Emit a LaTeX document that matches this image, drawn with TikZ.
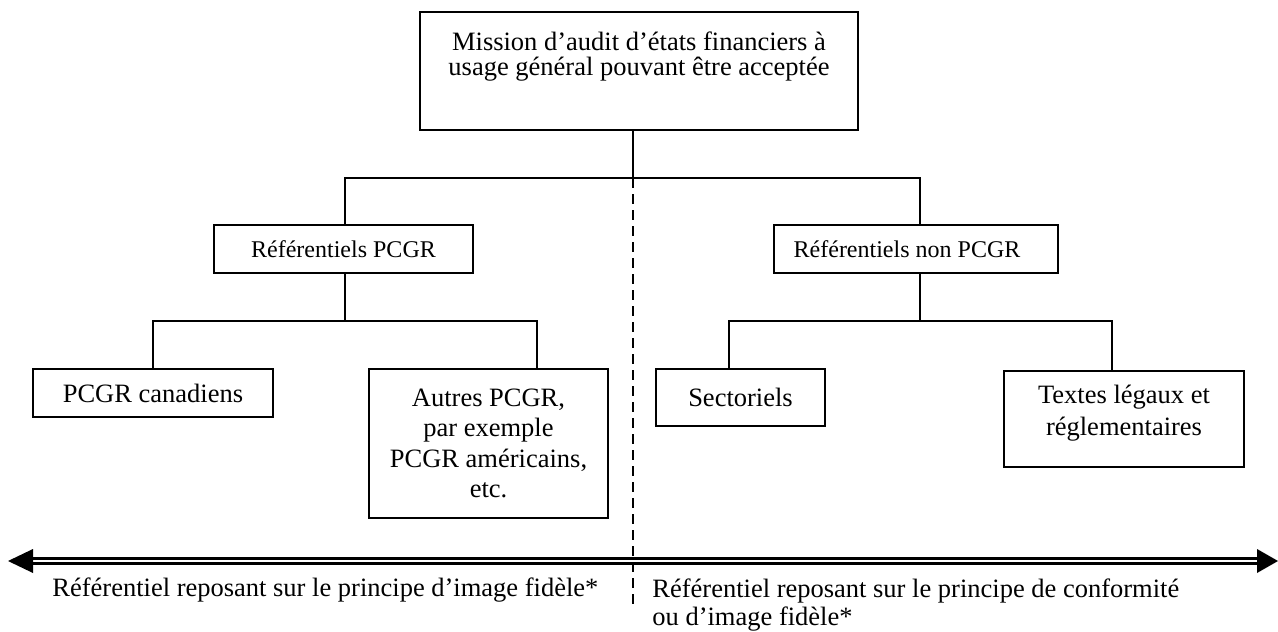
\documentclass[tikz,border=0pt]{standalone}
\usepackage{fontspec}
\setmainfont{Liberation Serif}
\usetikzlibrary{calc}
\begin{document}
\begin{tikzpicture}[x=0.5pt, y=-0.5pt,
  box/.style={draw, line width=0.8pt, inner sep=0pt, align=center,
    font=\fontsize{13.25pt}{15pt}\selectfont},
  smallbox/.style={draw, line width=0.8pt, inner sep=0pt,
    font=\fontsize{12pt}{14pt}\selectfont},
  link/.style={line width=0.8pt},
  divider/.style={line width=0.7pt, dash pattern=on 5pt off 3pt},
  caption/.style={inner sep=0pt, align=left,
    font=\fontsize{13.25pt}{14pt}\selectfont},
  headtext/.style={inner sep=0pt, align=center,
    font=\fontsize{13.25pt}{12.5pt}\selectfont}]
\useasboundingbox (0,0) rectangle (1278,631);

% top box
\node[box, minimum width=219pt, minimum height=59pt] (mission) at (639,71) {};
\node[headtext] (missiontext) at (639,56.5)
  {Mission d’audit d’états financiers à\\usage général pouvant être acceptée};

% first level
\node[smallbox, minimum width=129.5pt, minimum height=24pt] (gaap) at (343.5,249)
  {Référentiels PCGR};
\node[smallbox, minimum width=142pt, minimum height=24pt] (nongaap) at (916,249)
  {Référentiels non PCGR\kern9pt};

% second level
\node[box, minimum width=120pt, minimum height=24pt] (canada) at (153,393)
  {PCGR canadiens};
\node[box, minimum width=119.5pt, minimum height=74.5pt,
  font=\fontsize{13.25pt}{15.3pt}\selectfont] (other) at (488.5,443.5)
  {Autres PCGR,\\par exemple\\PCGR américains,\\etc.};
\node[box, minimum width=84.5pt, minimum height=28.5pt] (sector) at (740.5,397.5)
  {Sectoriels};
\node[box, minimum width=120pt, minimum height=48pt, text depth=9pt,
  font=\fontsize{13.25pt}{16pt}\selectfont] (legal) at (1124,419)
  {Textes légaux et\\réglementaires};

% bus junctions
\coordinate (j0) at (633,178);
\coordinate (b0l) at (345,178);
\coordinate (b0r) at (920,178);
\coordinate (b1) at (345,321);
\coordinate (b1r) at (537,321);
\coordinate (b2) at (920,321);
\coordinate (b2l) at (729,321);
\coordinate (b2r) at (1112,321);
\coordinate (dashend) at (633,606);

% connectors
\draw[link] (mission.south -| j0) -- (j0);
\draw[link] (gaap.north -| b0l) |- (b0r) -- (nongaap.north -| b0r);
\draw[link] (gaap.south -| b1) -- (b1);
\draw[link] (canada.north) |- (b1r) -- (other.north -| b1r);
\draw[link] (nongaap.south -| b2) -- (b2);
\draw[link] (sector.north -| b2l) |- (b2r) -- (legal.north -| b2r);

% dividing line
\draw[divider] (j0) -- (dashend);

% double-headed scale arrow
\coordinate (al) at (8,561);
\coordinate (ar) at (1278,561);
\draw[line width=1.15pt, double=white, double distance=1.3pt]
  ($(al)+(24,0)$) -- ($(ar)+(-20,0)$);
\fill (al) -- ($(al)+(25,-12)$) -- ($(al)+(25,12)$) -- cycle;
\fill (ar) -- ($(ar)+(-21,-12)$) -- ($(ar)+(-21,12)$) -- cycle;

% captions
\node[caption, anchor=base west] (capleft) at (52,596)
  {Référentiel reposant sur le principe d’image fidèle*};
\node[caption, anchor=north west] (capright) at (652,578)
  {Référentiel reposant sur le principe de conformité\\ou d’image fidèle*};
\end{tikzpicture}
\end{document}
